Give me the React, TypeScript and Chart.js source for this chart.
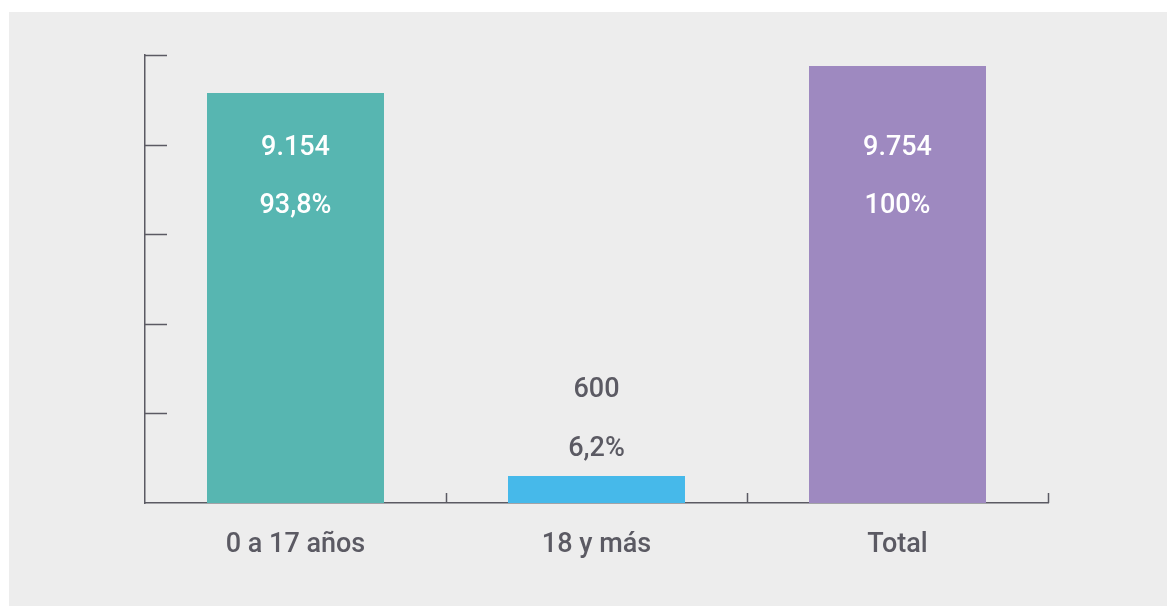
import React, { useEffect, useRef } from "react";
import { Chart, registerables } from "chart.js";

Chart.register(...registerables);

const categories = ["0 a 17 años", "18 y más", "Total"];
const values = [9154, 600, 9754];
const valueLabels = ["9.154", "600", "9.754"];
const percentLabels = ["93,8%", "6,2%", "100%"];
const barColors = ["#57b6b1", "#46b9ea", "#9e89c0"];
const yMax = 10000;
const yStep = 2000;

const INK = "#5b5a63";
const FONT = "Roboto, 'Noto Sans', sans-serif";

const decorPlugin = {
  id: "decor",
  afterDatasetsDraw(chart: any) {
    const ctx = chart.ctx;
    const x = chart.scales.x;
    const y = chart.scales.y;
    ctx.save();
    ctx.strokeStyle = INK;
    ctx.lineWidth = 1.5;
    // y ticks (inward)
    for (let v = yStep; v <= yMax; v += yStep) {
      const py = Math.round(y.getPixelForValue(v)) + 0.5;
      ctx.beginPath();
      ctx.moveTo(x.left, py);
      ctx.lineTo(x.left + 22, py);
      ctx.stroke();
    }
    // x ticks at category boundaries (upward)
    const n = categories.length;
    for (let i = 1; i <= n; i++) {
      const px = Math.round(x.left + (i * x.width) / n) + 0.5;
      ctx.beginPath();
      ctx.moveTo(px, y.bottom);
      ctx.lineTo(px, y.bottom - 10);
      ctx.stroke();
    }
    // data labels
    const meta = chart.getDatasetMeta(0);
    ctx.font = `500 27px ${FONT}`;
    ctx.textAlign = "center";
    ctx.textBaseline = "middle";
    meta.data.forEach((bar: any, i: number) => {
      const h = y.bottom - bar.y;
      if (h > 150) {
        const y1 = y.getPixelForValue(8000) + 4;
        ctx.fillStyle = "#ffffff";
        ctx.fillText(valueLabels[i], bar.x, y1);
        ctx.fillText(percentLabels[i], bar.x, y1 + 58);
      } else {
        ctx.fillStyle = INK;
        ctx.fillText(valueLabels[i], bar.x, bar.y - 86);
        ctx.fillText(percentLabels[i], bar.x, bar.y - 27);
      }
    });
    ctx.restore();
  },
};

export default function App() {
  const ref = useRef<HTMLCanvasElement | null>(null);
  useEffect(() => {
    if (!ref.current) return;
    const chart = new Chart(ref.current, {
      type: "bar",
      data: {
        labels: categories,
        datasets: [
          {
            data: values,
            backgroundColor: barColors,
            barPercentage: 0.588,
            categoryPercentage: 1,
          },
        ],
      },
      options: {
        animation: false,
        responsive: true,
        maintainAspectRatio: false,
        layout: { padding: { left: 136, top: 43, right: 119, bottom: 0 } },
        plugins: { legend: { display: false }, tooltip: { enabled: false } },
        scales: {
          x: {
            grid: { display: false },
            border: { display: true, color: INK, width: 1.5 },
            ticks: {
              color: INK,
              font: { family: FONT, size: 27, weight: "500" as any },
              padding: 18,
              maxRotation: 0,
            },
            afterFit(scale: any) {
              scale.height = 103;
            },
          },
          y: {
            min: 0,
            max: yMax,
            grid: { display: false },
            border: { display: true, color: INK, width: 1.5 },
            ticks: { display: false, stepSize: yStep },
            afterFit(scale: any) {
              scale.width = 0;
            },
          },
        },
      },
      plugins: [decorPlugin],
    });
    return () => chart.destroy();
  }, []);
  return (
    <div
      style={{
        position: "fixed",
        left: 9,
        top: 12,
        width: 1158,
        height: 594,
        background: "#ededed",
      }}
    >
      <canvas ref={ref} />
    </div>
  );
}
